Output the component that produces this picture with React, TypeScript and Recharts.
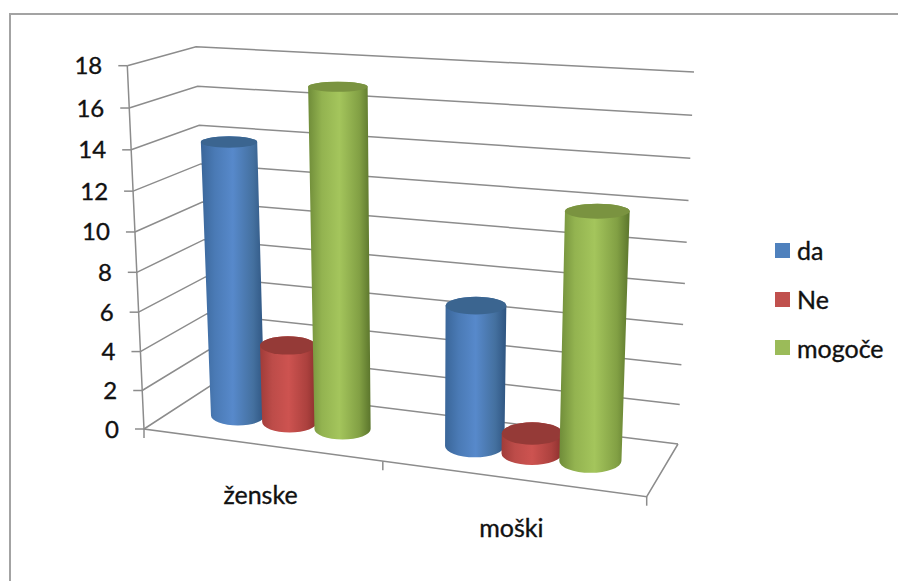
import React from "react";
import { BarChart, Bar, XAxis, YAxis, CartesianGrid, Legend } from "recharts";

const categories = ["ženske", "moški"];
const daValues = [14, 7];
const neValues = [4, 1];
const mogoceValues = [17, 12];
const yTicks = [0, 2, 4, 6, 8, 10, 12, 14, 16, 18];

const seriesNames = ["da", "Ne", "mogoče"];
const seriesColors = ["#4f81bd", "#c0504d", "#9bbb59"];
const capColors = ["#3b6590", "#953a37", "#7a9340"];
// edge, shoulder, centre, shoulder, edge
const bodyStops = [
  ["#3a6699", "#4a7ab5", "#5789cb", "#44709f", "#2e5480"],
  ["#a03c39", "#bd4c49", "#cd5350", "#ac413e", "#8a2f2d"],
  ["#6f8c39", "#93b350", "#a4c55c", "#82a044", "#5b752c"],
];
const stopOffsets = [0, 0.22, 0.5, 0.82, 1];

const data = categories.map((name, i) => ({
  name,
  da: daValues[i],
  Ne: neValues[i],
  mogoce: mogoceValues[i],
}));
const dataKeys = ["da", "Ne", "mogoce"];

const FONT = "Lato, sans-serif";
const TEXT = "#111";
const LINE = "#8c8c8c";

// plot rectangle handed to Recharts; everything is projected from it into the 3D box
const PLOT = { left: 144, top: 65, width: 502, height: 364 };
const MARGIN = {
  top: PLOT.top,
  left: PLOT.left - 1,
  right: 898 - PLOT.left - PLOT.width,
  bottom: 581 - PLOT.top - PLOT.height - 1,
};

const BOX = {
  floorFrontLeft: [144, 429],
  floorFrontRight: [646.7, 496.7],
  floorBackLeft: [210, 386],
  floorBackRight: [678, 444],
  topFrontLeft: [127.3, 65.7],
  topFrontRight: [661, 95],
  topBackLeft: [196, 46.7],
  topBackRight: [694, 72],
};

const lerp = (a: number[], b: number[], k: number) => [a[0] + (b[0] - a[0]) * k, a[1] + (b[1] - a[1]) * k];
// perspective foreshortening along one axis
const warp = (t: number, c: number) => (t * (1 + c)) / (1 + c * t);

function project(u: number, d: number, h: number) {
  const su = warp(u, -0.095);
  const sh = warp(h, -0.052);
  const floor = lerp(lerp(BOX.floorFrontLeft, BOX.floorFrontRight, su), lerp(BOX.floorBackLeft, BOX.floorBackRight, su), d);
  const top = lerp(lerp(BOX.topFrontLeft, BOX.topFrontRight, su), lerp(BOX.topBackLeft, BOX.topBackRight, su), d);
  return lerp(floor, top, sh);
}

const toU = (x: number) => (x - PLOT.left) / PLOT.width;
const toH = (y: number) => (PLOT.top + PLOT.height - y) / PLOT.height;
const pts = (list: number[][]) => list.map((p) => `${p[0].toFixed(1)},${p[1].toFixed(1)}`).join(" ");

const RADIUS_DEPTH = 0.23;
const RADIUS_SCALE = 1.05; // neighbouring cylinders overlap a little

function disc(uc: number, r: number, h: number) {
  const [cx, cy] = project(uc, 0.5, h);
  const rx = (project(uc + r, 0.5, h)[0] - project(uc - r, 0.5, h)[0]) / 2;
  const ry = (project(uc, 0.5 - RADIUS_DEPTH, h)[1] - project(uc, 0.5 + RADIUS_DEPTH, h)[1]) / 2;
  return { cx, cy, rx, ry };
}

function makeCylinder(index: number) {
  return function Cylinder(props: any) {
    const { x, y, width } = props;
    const uc = toU(x + width / 2);
    const r = (RADIUS_SCALE * width) / 2 / PLOT.width;
    const top = disc(uc, r, toH(y));
    const base = disc(uc, r, 0);
    const body = [
      `M${top.cx - top.rx},${top.cy}`,
      `L${base.cx - base.rx},${base.cy}`,
      `A${base.rx},${base.ry} 0 0 0 ${base.cx + base.rx},${base.cy}`,
      `L${top.cx + top.rx},${top.cy}`,
      `A${top.rx},${top.ry} 0 0 0 ${top.cx - top.rx},${top.cy}`,
      "Z",
    ].join(" ");
    return (
      <g>
        <path d={body} fill={`url(#cyl-${index})`} />
        <ellipse cx={top.cx} cy={top.cy} rx={top.rx} ry={top.ry} fill={capColors[index]} />
      </g>
    );
  };
}

function gridLine(props: any) {
  const h = toH(props.y1);
  return (
    <polyline
      key={h}
      points={pts([project(0, 0, h), project(0, 1, h), project(1, 1, h)])}
      fill="none"
      stroke={LINE}
      strokeWidth={1.5}
    />
  );
}

function YTick(props: any) {
  const h = toH(props.y);
  const [px, py] = project(0, 0, h);
  return (
    <g>
      <line x1={px - 9} y1={py} x2={px} y2={py} stroke={LINE} strokeWidth={1.5} />
      <text
        x={px - 25}
        y={py - 1}
        textAnchor="end"
        dominantBaseline="central"
        fontFamily={FONT}
        fontSize={24}
        fill={TEXT}
        stroke={TEXT}
        strokeWidth={0.35}
      >
        {props.payload.value}
      </text>
    </g>
  );
}

function XTick(props: any) {
  const [px, py] = project(toU(props.x), 0, 0);
  return (
    <text
      x={px}
      y={py + 49}
      textAnchor="middle"
      dominantBaseline="central"
      fontFamily={FONT}
      fontSize={25}
      fill={TEXT}
      stroke={TEXT}
      strokeWidth={0.35}
    >
      {props.payload.value}
    </text>
  );
}

// corner edge of the walls, floor outline and category ticks
function BoxFrame() {
  const ticks = [0, 0.5, 1].map((u) => project(u, 0, 0));
  return (
    <g fill="none" stroke={LINE} strokeWidth={1.5}>
      <polyline points={pts([project(0, 0, 1), project(0, 0, 0), project(1, 0, 0), project(1, 1, 0)])} />
      {ticks.map((p, i) => (
        <line key={i} x1={p[0]} y1={p[1]} x2={p[0]} y2={p[1] + 9} />
      ))}
    </g>
  );
}

function LegendBox(props: any) {
  return (
    <div style={{ fontFamily: FONT, fontSize: 25, color: TEXT, WebkitTextStroke: "0.35px #111" }}>
      {props.payload.map((entry: any) => (
        <div key={entry.value} style={{ display: "flex", alignItems: "center", height: 48.75 }}>
          <span style={{ width: 15, height: 15, background: entry.color, marginRight: 7 }} />
          <span>{entry.value}</span>
        </div>
      ))}
    </div>
  );
}

export default function App() {
  return (
    <div style={{ position: "absolute", left: 0, top: 0, width: 898, height: 581, overflow: "hidden", background: "#fff" }}>
      <div style={{ position: "absolute", left: 9, top: 13, width: 889, height: 568, borderLeft: "2px solid #a3a3a3", borderTop: "2px solid #a3a3a3" }} />
      <div style={{ position: "absolute", left: 0, top: 0 }}>
        <BarChart width={898} height={581} data={data} margin={MARGIN} barCategoryGap="16%" barGap={0}>
          <defs>
            {bodyStops.map((stops, i) => (
              <linearGradient key={i} id={`cyl-${i}`} x1="0" y1="0" x2="1" y2="0">
                {stops.map((color, j) => (
                  <stop key={j} offset={stopOffsets[j]} stopColor={color} />
                ))}
              </linearGradient>
            ))}
          </defs>
          <CartesianGrid vertical={false} horizontal={gridLine} />
          <XAxis dataKey="name" height={1} axisLine={false} tickLine={false} tick={XTick} interval={0} />
          <YAxis domain={[0, 18]} ticks={yTicks} width={1} axisLine={false} tickLine={false} tick={YTick} interval={0} />
          <BoxFrame />
          <Legend
            layout="vertical"
            align="center"
            verticalAlign="middle"
            itemSorter={null}
            content={LegendBox}
            wrapperStyle={{ position: "absolute", left: 775, top: 226, width: 120 }}
          />
          {dataKeys.map((key, i) => (
            <Bar
              key={key}
              dataKey={key}
              name={seriesNames[i]}
              fill={seriesColors[i]}
              shape={makeCylinder(i)}
              isAnimationActive={false}
            />
          ))}
        </BarChart>
      </div>
    </div>
  );
}
